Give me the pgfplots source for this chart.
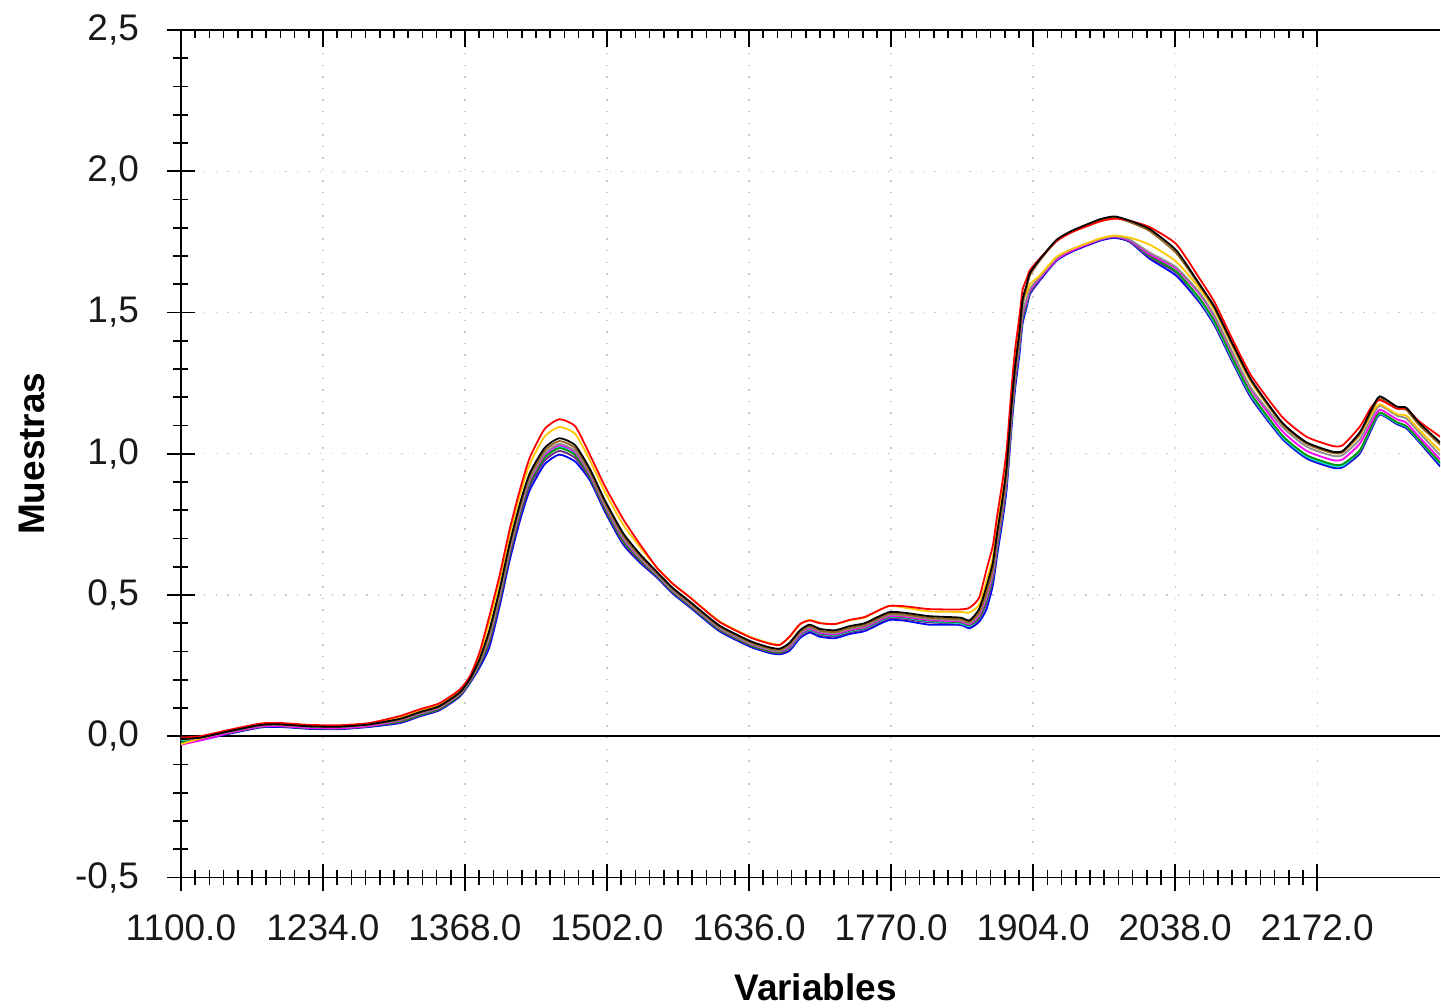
\documentclass[border=0pt]{standalone}
\usepackage{fontspec}
\setmainfont{Liberation Sans}
\usepackage{pgfplots}
\usepackage{pgfplotstable}
\pgfplotsset{compat=1.18}

\definecolor{cred}{RGB}{255,0,0}
\definecolor{cora}{RGB}{255,200,0}
\definecolor{cbrn}{RGB}{150,100,30}
\definecolor{cgry}{RGB}{140,140,140}
\definecolor{cmag}{RGB}{255,0,255}
\definecolor{ccya}{RGB}{0,225,225}
\definecolor{cgrn}{RGB}{0,150,0}
\definecolor{cblu}{RGB}{0,0,255}
\definecolor{cvio}{RGB}{110,40,130}
\definecolor{gridc}{RGB}{200,200,200}

% spectra, one column per sample
\pgfplotstableread{
x    k      r      o      b      g      m      c      gr     bl     v
1100 -0.010 -0.005 -0.028 -0.010 -0.012 -0.030 -0.014 -0.022 -0.019 -0.015
1118 -0.005 0.000  -0.008 -0.005 -0.007 -0.015 -0.009 -0.012 -0.014 -0.010
1146 0.018  0.023  0.020  0.018  0.016  0.012  0.014  0.011  0.009  0.013
1175 0.040  0.045  0.042  0.040  0.038  0.034  0.036  0.033  0.031  0.035
1193 0.042  0.047  0.044  0.042  0.040  0.036  0.038  0.035  0.033  0.037
1222 0.035  0.040  0.037  0.035  0.033  0.029  0.031  0.028  0.026  0.030
1250 0.034  0.039  0.036  0.034  0.032  0.028  0.030  0.027  0.025  0.029
1278 0.042  0.047  0.044  0.042  0.040  0.036  0.038  0.035  0.033  0.037
1307 0.062  0.072  0.067  0.060  0.058  0.056  0.054  0.052  0.047  0.050
1325 0.085  0.095  0.090  0.083  0.081  0.079  0.077  0.075  0.070  0.073
1344 0.107  0.117  0.112  0.105  0.103  0.101  0.099  0.097  0.092  0.095
1363 0.155  0.165  0.160  0.153  0.151  0.149  0.147  0.145  0.140  0.143
1373 0.205  0.215  0.210  0.203  0.201  0.199  0.197  0.195  0.190  0.193
1382 0.275  0.300  0.290  0.270  0.265  0.263  0.260  0.257  0.245  0.253
1391 0.375  0.425  0.405  0.365  0.355  0.350  0.345  0.340  0.315  0.330
1401 0.525  0.575  0.555  0.515  0.505  0.500  0.495  0.490  0.465  0.480
1410 0.680  0.730  0.710  0.670  0.660  0.655  0.650  0.645  0.620  0.635
1420 0.825  0.875  0.855  0.815  0.805  0.800  0.795  0.790  0.765  0.780
1429 0.930  0.985  0.962  0.920  0.910  0.905  0.900  0.895  0.870  0.885
1443 1.020  1.087  1.060  1.010  1.000  0.995  0.990  0.985  0.962  0.975
1457 1.055  1.122  1.095  1.045  1.035  1.030  1.025  1.020  0.997  1.010
1472 1.030  1.097  1.070  1.020  1.010  1.005  1.000  0.995  0.972  0.985
1486 0.945  0.995  0.975  0.937  0.930  0.925  0.920  0.917  0.905  0.912
1500 0.835  0.885  0.865  0.827  0.820  0.815  0.810  0.807  0.795  0.802
1517 0.720  0.770  0.750  0.712  0.705  0.700  0.695  0.692  0.680  0.687
1533 0.645  0.680  0.670  0.639  0.633  0.630  0.627  0.625  0.615  0.620
1549 0.582  0.597  0.597  0.578  0.574  0.572  0.570  0.568  0.562  0.566
1564 0.525  0.540  0.540  0.521  0.517  0.515  0.513  0.511  0.505  0.509
1580 0.477  0.492  0.493  0.473  0.469  0.467  0.465  0.463  0.457  0.461
1608 0.392  0.405  0.407  0.388  0.384  0.382  0.380  0.378  0.372  0.376
1637 0.337  0.350  0.352  0.333  0.329  0.327  0.325  0.323  0.317  0.321
1655 0.315  0.328  0.330  0.311  0.307  0.305  0.303  0.301  0.295  0.299
1665 0.310  0.323  0.325  0.306  0.302  0.300  0.298  0.296  0.290  0.294
1674 0.330  0.352  0.350  0.324  0.320  0.316  0.312  0.314  0.302  0.308
1684 0.375  0.397  0.395  0.369  0.365  0.361  0.357  0.359  0.347  0.353
1693 0.395  0.410  0.412  0.389  0.385  0.381  0.377  0.379  0.367  0.373
1703 0.380  0.400  0.402  0.374  0.370  0.366  0.362  0.364  0.352  0.358
1717 0.375  0.397  0.397  0.369  0.365  0.361  0.357  0.359  0.347  0.353
1731 0.390  0.412  0.410  0.384  0.380  0.376  0.372  0.374  0.362  0.368
1745 0.400  0.422  0.420  0.394  0.390  0.386  0.382  0.384  0.372  0.378
1759 0.425  0.447  0.447  0.419  0.415  0.411  0.407  0.409  0.397  0.403
1769 0.440  0.462  0.462  0.434  0.430  0.426  0.422  0.424  0.412  0.418
1783 0.437  0.460  0.455  0.431  0.427  0.423  0.419  0.421  0.409  0.415
1806 0.425  0.450  0.442  0.419  0.415  0.411  0.407  0.409  0.395  0.403
1835 0.420  0.449  0.440  0.414  0.410  0.406  0.400  0.403  0.394  0.398
1844 0.410  0.455  0.438  0.404  0.400  0.396  0.390  0.393  0.382  0.388
1853 0.450  0.490  0.465  0.438  0.432  0.426  0.420  0.420  0.405  0.414
1860 0.530  0.590  0.550  0.510  0.500  0.490  0.480  0.480  0.450  0.470
1866 0.615  0.675  0.635  0.595  0.585  0.575  0.565  0.565  0.535  0.555
1870 0.720  0.780  0.740  0.700  0.690  0.680  0.670  0.670  0.640  0.660
1875 0.840  0.900  0.860  0.820  0.810  0.800  0.790  0.790  0.760  0.780
1879 0.955  1.015  0.975  0.935  0.925  0.915  0.905  0.905  0.875  0.895
1884 1.190  1.250  1.210  1.170  1.160  1.150  1.140  1.140  1.110  1.130
1887 1.310  1.370  1.330  1.290  1.280  1.270  1.260  1.260  1.230  1.250
1891 1.430  1.485  1.450  1.410  1.400  1.390  1.380  1.380  1.350  1.370
1894 1.545  1.580  1.540  1.525  1.500  1.490  1.480  1.480  1.460  1.475
1898 1.600  1.620  1.570  1.590  1.550  1.540  1.535  1.535  1.520  1.530
1901 1.640  1.650  1.600  1.632  1.585  1.578  1.575  1.575  1.565  1.570
1910 1.687  1.690  1.630  1.682  1.625  1.620  1.620  1.620  1.612  1.617
1926 1.757  1.752  1.697  1.754  1.692  1.687  1.689  1.687  1.683  1.686
1941 1.790  1.785  1.725  1.787  1.725  1.720  1.722  1.720  1.716  1.719
1967 1.830  1.822  1.762  1.827  1.760  1.758  1.760  1.758  1.754  1.757
1981 1.840  1.832  1.772  1.836  1.770  1.768  1.770  1.768  1.764  1.767
1995 1.825  1.825  1.765  1.820  1.758  1.755  1.755  1.755  1.750  1.752
2014 1.795  1.802  1.740  1.788  1.712  1.705  1.700  1.700  1.690  1.695
2039 1.720  1.742  1.680  1.710  1.660  1.655  1.645  1.645  1.630  1.640
2061 1.600  1.620  1.585  1.595  1.570  1.565  1.545  1.550  1.535  1.540
2075 1.520  1.537  1.508  1.515  1.490  1.485  1.465  1.470  1.455  1.460
2092 1.390  1.405  1.380  1.385  1.360  1.355  1.335  1.340  1.325  1.330
2110 1.260  1.275  1.250  1.255  1.230  1.225  1.205  1.210  1.195  1.200
2139 1.110  1.130  1.106  1.105  1.095  1.080  1.060  1.065  1.053  1.058
2162 1.040  1.060  1.036  1.035  1.025  1.010  0.990  0.995  0.983  0.988
2186 1.008  1.028  1.004  1.003  0.993  0.978  0.958  0.963  0.951  0.956
2196 1.010  1.030  1.006  1.005  0.995  0.980  0.958  0.963  0.952  0.957
2212 1.075  1.095  1.065  1.068  1.050  1.035  1.010  1.012  1.000  1.005
2223 1.156  1.165  1.140  1.148  1.125  1.110  1.095  1.097  1.085  1.090
2231 1.203  1.190  1.175  1.195  1.170  1.156  1.143  1.146  1.139  1.141
2247 1.167  1.160  1.140  1.160  1.135  1.122  1.110  1.112  1.105  1.108
2256 1.163  1.160  1.135  1.155  1.125  1.110  1.096  1.098  1.090  1.094
2268 1.110  1.115  1.085  1.102  1.075  1.060  1.048  1.050  1.042  1.046
2288 1.040  1.060  1.010  1.032  0.995  0.980  0.965  0.968  0.955  0.962
}\spectra

\begin{document}
\begin{tikzpicture}
\pgfplotsset{
  every axis/.append style={
    at={(0,0)}, anchor=south west,
    scale only axis, width=630pt, height=424pt,
    xmin=1100, xmax=2288, ymin=-0.5, ymax=2.5,
    xtick={1100,1234,1368,1502,1636,1770,1904,2038,2172},
    ytick={-0.5,0,0.5,1,1.5,2,2.5},
    minor x tick num=9, minor y tick num=4,
    every tick/.style={black, line width=0.8pt},
  },
}
\begin{axis}[
  axis x line=bottom, axis y line=left,
  axis line style={black, line width=0.8pt, -},
  x axis line style={-}, y axis line style={-},
  tick align=center,
  major tick length=14pt, minor tick length=7.5pt,
  xticklabels={1100.0,1234.0,1368.0,1502.0,1636.0,1770.0,1904.0,2038.0,2172.0},
  yticklabels={{-0,5},{0,0},{0,5},{1,0},{1,5},{2,0},{2,5}},
  tick label style={font=\fontsize{18.5}{20}\selectfont, black!90},
  yticklabel style={xshift=-10.5pt},
  xticklabel style={yshift=-8pt},
  grid=major,
  grid style={gridc, line width=0.7pt, dash pattern=on 0.7pt off 5.1pt},
  xlabel={Variables}, ylabel={Muestras},
  label style={font=\bfseries\fontsize{18.5}{20}\selectfont},
  xlabel style={at={(axis description cs:0.504,0)}, anchor=center, yshift=-55pt},
  ylabel style={at={(axis description cs:-0.1183,0.5)}, anchor=center},
  every axis plot/.append style={line width=0.9pt, smooth, tension=0.35},
]
\addplot[black, line width=0.8pt, sharp plot] coordinates {(1100,0) (2288,0)};
\addplot[cblu] table[x=x, y=bl] {\spectra};
\addplot[cvio] table[x=x, y=v] {\spectra};
\addplot[ccya] table[x=x, y=c] {\spectra};
\addplot[cgrn] table[x=x, y=gr] {\spectra};
\addplot[cmag] table[x=x, y=m] {\spectra};
\addplot[cgry] table[x=x, y=g] {\spectra};
\addplot[cora] table[x=x, y=o] {\spectra};
\addplot[cbrn] table[x=x, y=b] {\spectra};
\addplot[cred] table[x=x, y=r] {\spectra};
\addplot[black] table[x=x, y=k] {\spectra};
\end{axis}
% top frame line, ticks pointing inwards
\begin{axis}[
  axis x line=top, axis y line=none,
  axis line style={black, line width=0.8pt, -},
  x axis line style={-},
  tick align=inside,
  major tick length=8.5pt, minor tick length=4pt,
  xticklabels={}, ytick=\empty,
]
\end{axis}
\path[use as bounding box] (-90.5pt,-64.5pt) rectangle (630pt,439pt);
\end{tikzpicture}
\end{document}
